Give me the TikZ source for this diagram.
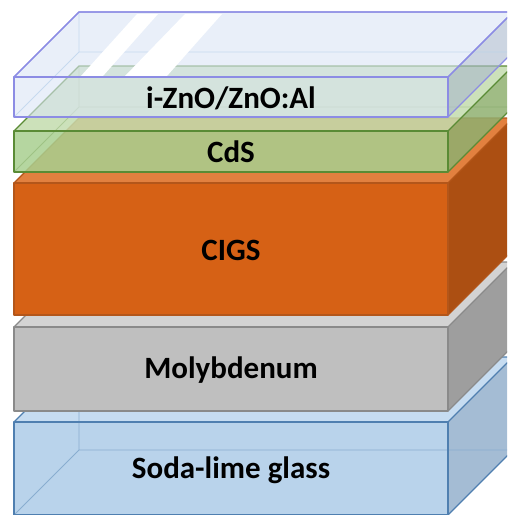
\documentclass[tikz,border=0pt]{standalone}
\usepackage{fontspec}
\setmainfont{Carlito}
\definecolor{znoF}{HTML}{DAE4F5}
\definecolor{znoR}{HTML}{AAB9CD}
\definecolor{znoE}{HTML}{8C8CE4}
\definecolor{znoH}{HTML}{B8D0EC}
\definecolor{cdsF}{HTML}{A8CF8F}
\definecolor{cdsT}{HTML}{C3DCAE}
\definecolor{cdsR}{HTML}{8FB070}
\definecolor{cdsE}{HTML}{5A8B35}
\definecolor{cigF}{HTML}{D66115}
\definecolor{cigT}{HTML}{E2803F}
\definecolor{cigR}{HTML}{AC4F12}
\definecolor{cigE}{HTML}{B3561A}
\definecolor{moF}{HTML}{BFBFBF}
\definecolor{moT}{HTML}{D3D3D3}
\definecolor{moR}{HTML}{9E9E9E}
\definecolor{moE}{HTML}{8A8A8A}
\definecolor{glF}{HTML}{B9D3EB}
\definecolor{glT}{HTML}{C6DCF1}
\definecolor{glR}{HTML}{A4BCD4}
\definecolor{glE}{HTML}{4F7FB0}
% #1 top y, #2 bottom y, #3 front, #4 top, #5 right, #6 edge, #7 opacity, #8 hidden-edge options
\newcommand{\slab}[8]{%
  \fill[#3, fill opacity=#7] (14,#1) rectangle (448,#2);
  \fill[#4, fill opacity=#7] (14,#1) -- (79,{#1-65}) -- (513,{#1-65}) -- (448,#1) -- cycle;
  \fill[#5, fill opacity=#7] (448,#1) -- (513,{#1-65}) -- (513,{#2-65}) -- (448,#2) -- cycle;
  \draw[#8] (79,{#1-65}) -- (79,{#2-65}) -- (513,{#2-65}) (14,#2) -- (79,{#2-65});
  \draw[edge, #6] (14,#1) rectangle (448,#2);
  \draw[edge, #6] (14,#1) -- (79,{#1-65}) -- (513,{#1-65}) (448,#1) -- (513,{#1-65})
     (448,#2) -- (513,{#2-65});
}
\tikzset{
  edge/.style={line width=1.3pt, line join=round},
  hid/.style={line width=0.9pt},
  lbl/.style={font=\bfseries\fontsize{31}{31}\selectfont, text=black, inner sep=0pt}
}
\begin{document}
\begin{tikzpicture}[x=1pt,y=-1pt]
\useasboundingbox (0,0) rectangle (507,515);
\clip (0,0) rectangle (507,515);
% Soda-lime glass
\slab{422}{515}{glF}{glT}{glR}{glE}{1}{hid, glE!45!glF}
% Molybdenum
\slab{327}{411}{moF}{moT}{moR}{moE}{1}{draw=none}
% CIGS
\slab{183}{315}{cigF}{cigT}{cigR}{cigE}{1}{draw=none}
% CdS
\slab{131}{172}{cdsF}{cdsT}{cdsR}{cdsE}{0.85}{hid, cdsE, draw opacity=0.25}
% i-ZnO/ZnO:Al
\slab{77}{117}{znoF}{znoF}{znoR}{znoE}{0.6}{hid, znoH, draw opacity=0.7}
% highlights
\fill[white] (137,14) -- (158,14) -- (103,76) -- (81,76) -- cycle;
\fill[white] (185,14) -- (222,14) -- (167,76) -- (125,76) -- cycle;
\draw[edge, znoE] (14,77) -- (79,12) -- (513,12) (448,77) -- (513,12);
\draw[edge, znoE] (14,77) -- (448,77);
% labels
\node[lbl] (zno) at (231,98) {i-ZnO/ZnO:Al};
\node[lbl] (cds) at (231,152) {CdS};
\node[lbl] (cigs) at (231,250) {CIGS};
\node[lbl] (mo) at (231,370) {Molybdenum};
\node[lbl] (glass) at (231,470) {Soda-lime glass};
\end{tikzpicture}
\end{document}
